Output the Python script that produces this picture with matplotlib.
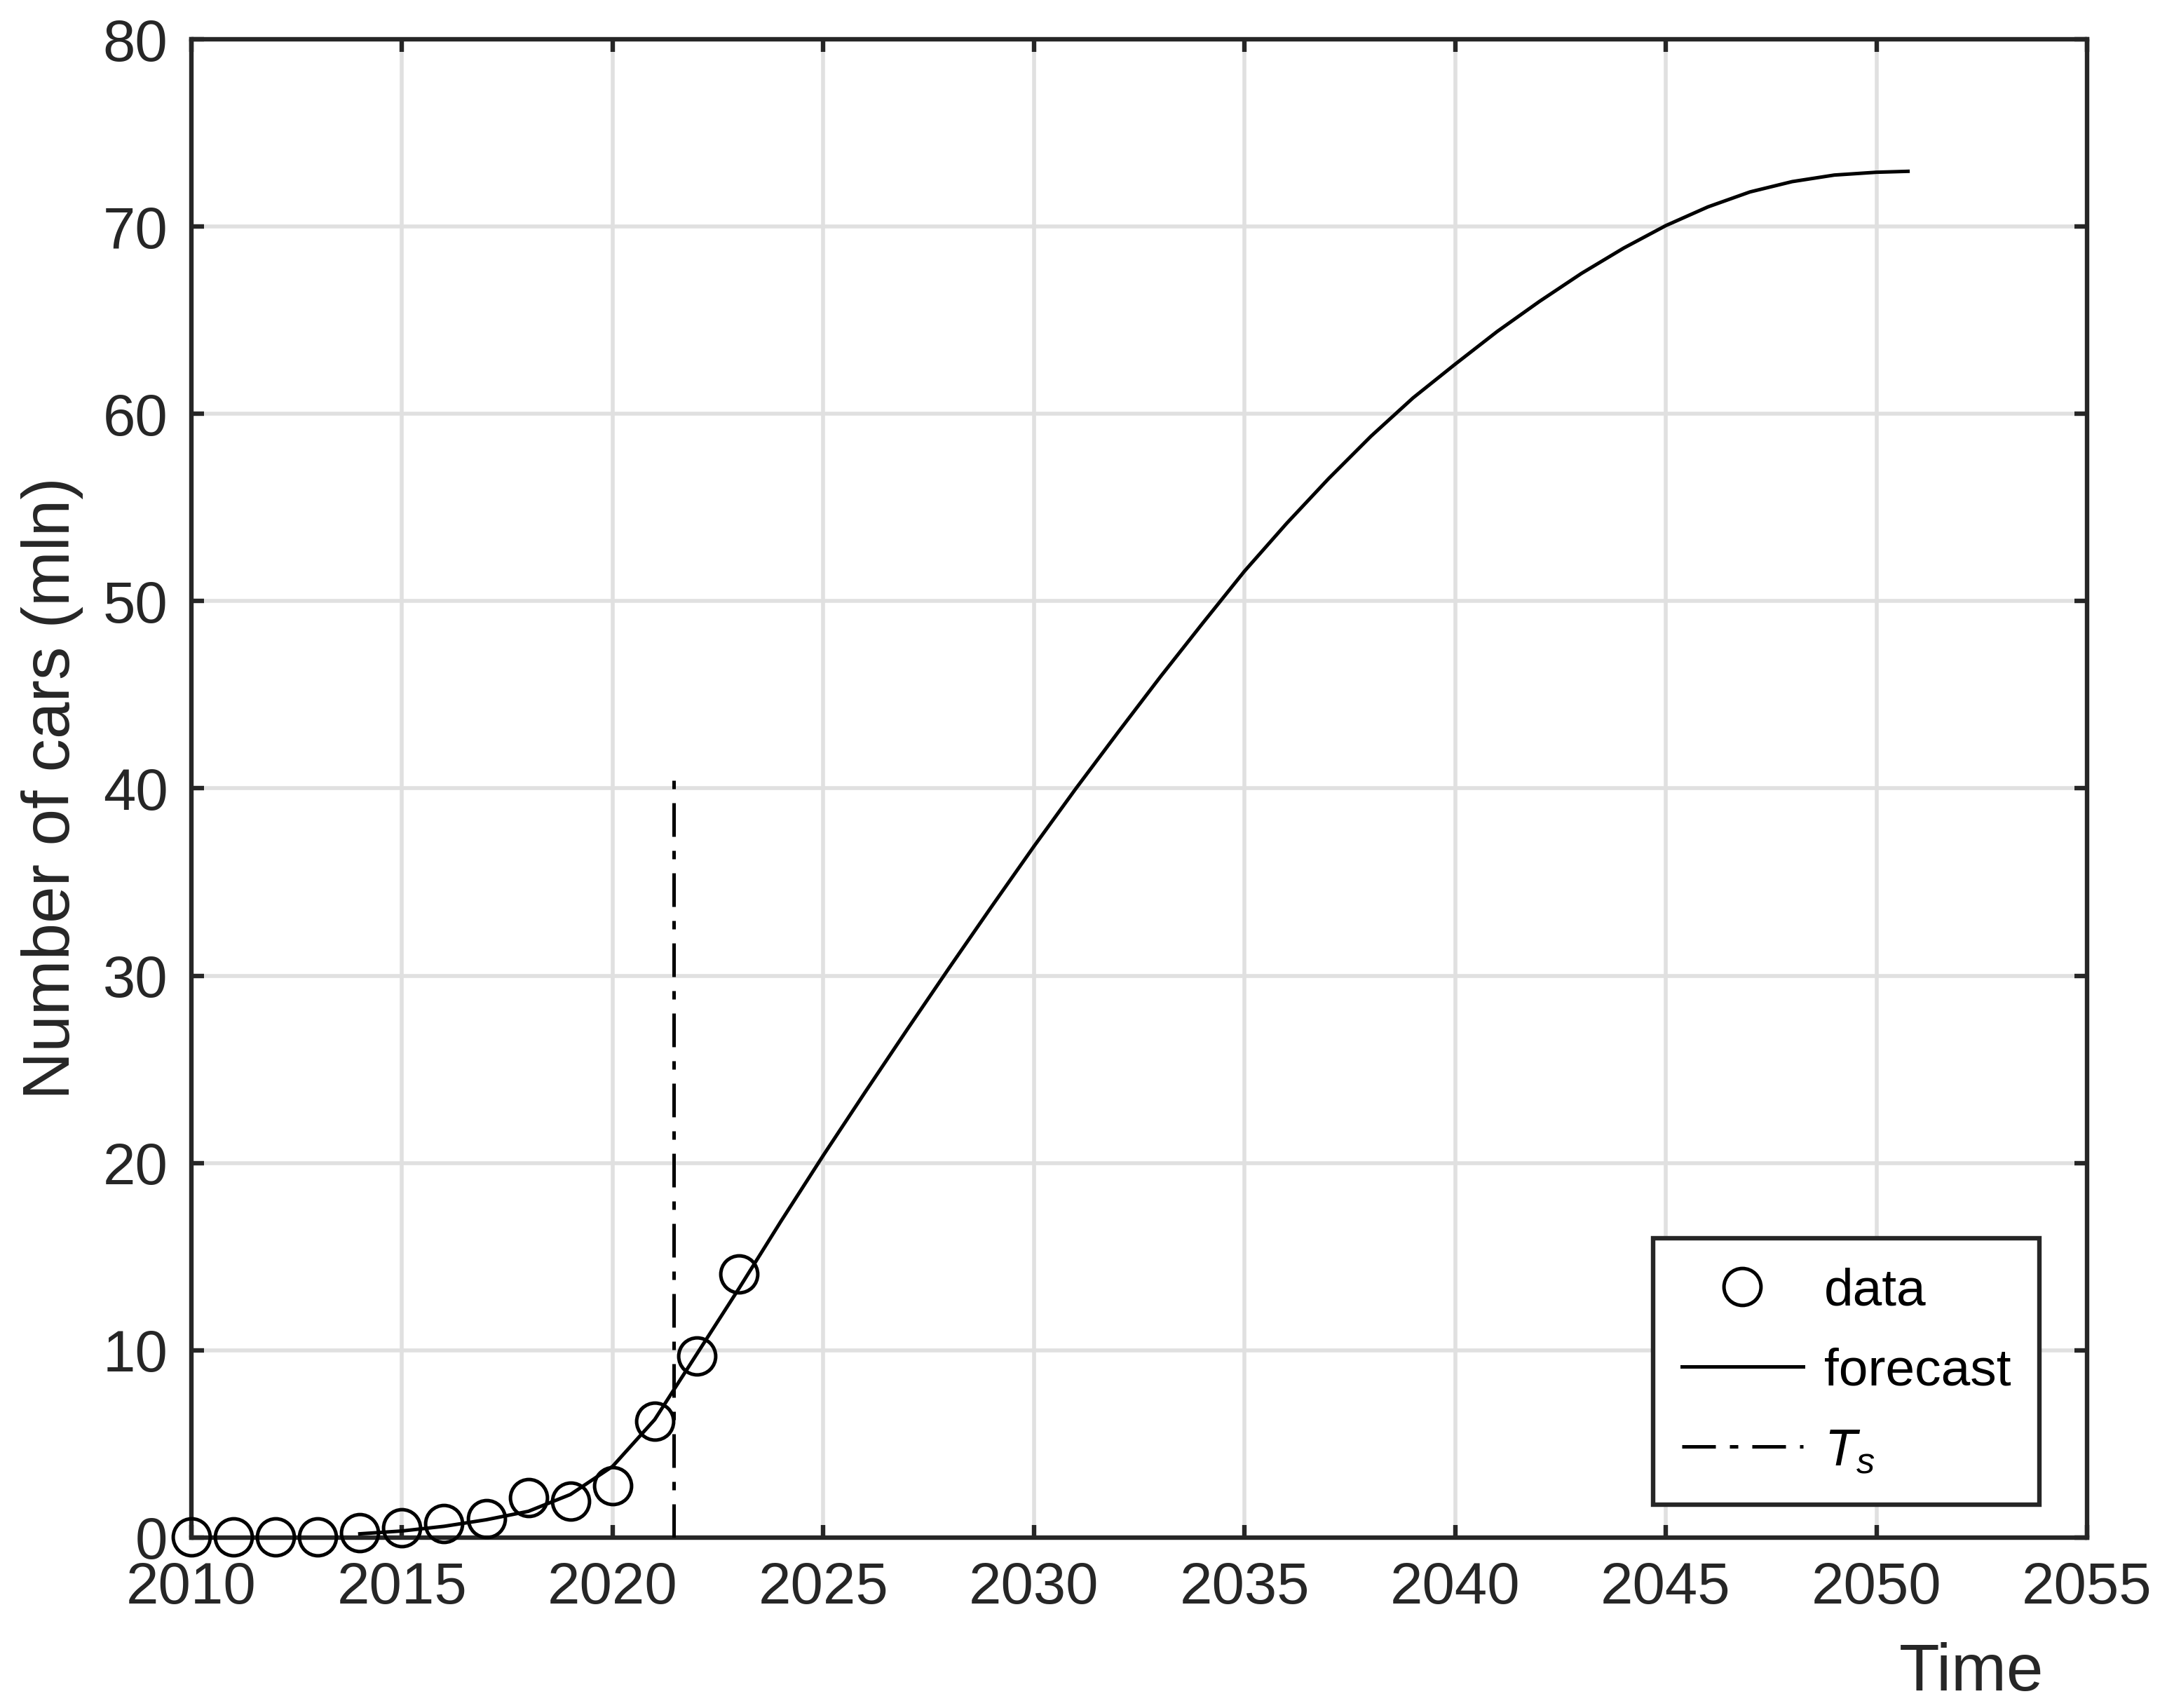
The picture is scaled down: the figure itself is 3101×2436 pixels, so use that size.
import matplotlib.pyplot as plt

# observed data (mln cars)
data_years = [2010, 2011, 2012, 2013, 2014, 2015, 2016, 2017, 2018, 2019, 2020, 2021, 2022, 2023]
data_values = [0.05, 0.05, 0.05, 0.05, 0.27, 0.52, 0.75, 0.99, 2.14, 1.94, 2.77, 6.2, 9.7, 14.07]

# forecast curve
fc_years = [2014, 2015, 2016, 2017, 2018, 2019, 2020, 2021, 2022, 2023, 2024, 2025,
            2026, 2027, 2028, 2029, 2030, 2031, 2032, 2033, 2034, 2035, 2036, 2037,
            2038, 2039, 2040, 2041, 2042, 2043, 2044, 2045, 2046, 2047, 2048, 2049,
            2050, 2050.75]
fc_values = [0.2, 0.35, 0.6, 0.95, 1.4, 2.3, 3.8, 6.3, 9.8, 13.3, 16.9, 20.4,
             23.8, 27.15, 30.45, 33.7, 36.9, 40.0, 43.0, 45.95, 48.8, 51.6, 54.15, 56.55,
             58.8, 60.85, 62.65, 64.4, 66.0, 67.5, 68.85, 70.05, 71.05, 71.85, 72.4, 72.75,
             72.9, 72.95]

# switching time T_s
ts_x = [2021.45, 2021.45]
ts_y = [0, 40.5]

plt.rcParams['font.family'] = ['Liberation Sans', 'DejaVu Sans']
plt.rcParams['mathtext.fontset'] = 'custom'
plt.rcParams['mathtext.it'] = 'Liberation Sans:italic'
plt.rcParams['mathtext.rm'] = 'Liberation Sans'

fig = plt.figure(figsize=(15.505, 12.18), dpi=200)
ax = fig.add_axes([0.088, 0.0998, 0.872, 0.8772])

ax.plot(data_years, data_values, 'o', ms=19, mfc='none', mec='black', mew=1.8,
        label='data', clip_on=False, zorder=4)
ax.plot(fc_years, fc_values, '-', color='black', lw=1.8, label='forecast', zorder=3)
ax.plot(ts_x, ts_y, color='black', lw=1.8, dashes=(9.6, 4, 2.4, 4), label='$T_s$', zorder=3)

ax.set_xlim(2010, 2055)
ax.set_ylim(0, 80)
ax.set_xticks(range(2010, 2056, 5))
ax.set_yticks(range(0, 81, 10))

ax.grid(True, color='#e0e0e0', lw=2.0)
ax.set_axisbelow(True)
for s in ax.spines.values():
    s.set_linewidth(2.3)
    s.set_color('#262626')
ax.tick_params(direction='in', length=6.6, width=2.3, colors='#262626',
               labelsize=30, top=True, right=True, pad=12)

ax.set_ylabel('Number of cars (mln)', fontsize=34, color='#262626', labelpad=10)
ax.set_xlabel('Time', fontsize=34, color='#262626')
ax.xaxis.set_label_coords(0.939, -0.070)

leg = ax.legend(loc='lower right', bbox_to_anchor=(0.975, 0.022), fontsize=27,
                frameon=True, fancybox=False, framealpha=1, edgecolor='#262626',
                handlelength=2.3, handletextpad=0.4, borderpad=0.55,
                labelspacing=0.6, borderaxespad=0)
leg.get_frame().set_linewidth(2.3)

fig.savefig('out.png', dpi=200)
